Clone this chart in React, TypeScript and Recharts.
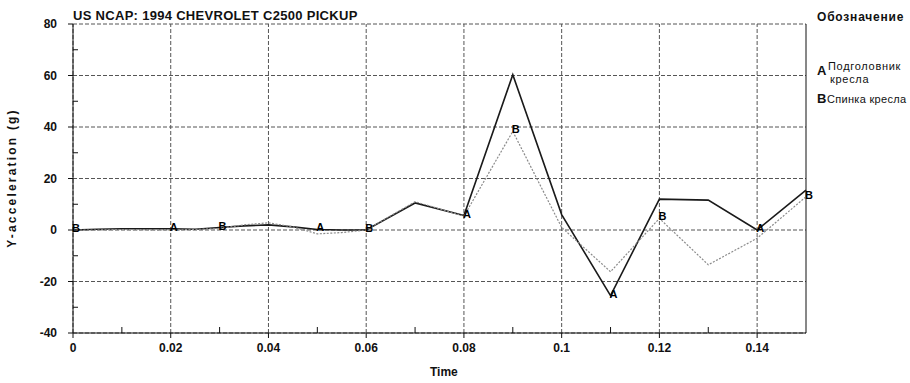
import React from 'react';
import { LineChart, Line, XAxis, YAxis, ReferenceLine } from 'recharts';

// time in s, Y-acceleration in g
const time = [0, 0.005, 0.01, 0.015, 0.02, 0.025, 0.03, 0.035, 0.04, 0.045, 0.05, 0.055, 0.06, 0.07, 0.08, 0.09, 0.1, 0.11, 0.12, 0.13, 0.14, 0.15];
const headrest = [0, 0.3, 0.5, 0.5, 0.5, 0.3, 1.0, 1.6, 2.0, 1.2, 0.2, 0, 0, 10.5, 5.6, 60.3, 6, -25.5, 12, 11.6, 0, 15.5];
const seatback = [0, 0, 0.2, 0.1, 0, 0.2, 0.6, 2.0, 2.8, 1.2, -1.5, -1.0, 0, 11, 5.4, 38.3, 1, -16.2, 4.5, -13.5, -3.2, 12.9];

const xMajor = [0, 0.02, 0.04, 0.06, 0.08, 0.1, 0.12, 0.14];
const xMinor = [0.01, 0.03, 0.05, 0.07, 0.09, 0.11, 0.13];
const yMajor = [-40, -20, 0, 20, 40, 60, 80];
const yMinor = [-30, -10, 10, 30, 50, 70];

const aMarks = [0.02, 0.05, 0.08, 0.11, 0.14];
const bMarks = [0, 0.03, 0.06, 0.09, 0.12, 0.15];

const data = time.map((t, i) => ({ time: t, a: headrest[i], b: seatback[i] }));

const font = 'Arial, "Liberation Sans", sans-serif';

const XTick = (props: any) => {
  const { x, y, payload } = props;
  if (xMinor.includes(payload.value)) {
    return <line x1={x} x2={x} y1={y} y2={y - 6} stroke="#111" strokeWidth={1} />;
  }
  return (
    <g>
      <line x1={x} x2={x} y1={y} y2={y + 5} stroke="#111" strokeWidth={1} />
      <text x={x} y={y + 19} textAnchor="middle" fontSize={12} fontWeight="bold" fill="#111" fontFamily={font}>
        {payload.value}
      </text>
    </g>
  );
};

const YTick = (props: any) => {
  const { x, y, payload } = props;
  if (yMinor.includes(payload.value)) {
    return <line x1={x} x2={x + 5} y1={y} y2={y} stroke="#111" strokeWidth={1} />;
  }
  return (
    <g>
      <line x1={x} x2={x - 5} y1={y} y2={y} stroke="#111" strokeWidth={1} />
      <text x={x - 16} y={y + 4} textAnchor="end" fontSize={12} fontWeight="bold" fill="#111" fontFamily={font}>
        {payload.value}
      </text>
    </g>
  );
};

const letterDot = (marks: number[], letter: string) => (props: any) => {
  const { cx, cy, payload, index } = props;
  if (!marks.includes(payload.time)) return <g key={index} />;
  return (
    <text key={index} x={cx + 3} y={cy + 2} textAnchor="middle" fontSize={11} fontWeight="bold" fill="#000" stroke="none" fontFamily={font}>
      {letter}
    </text>
  );
};

export default function App() {
  return (
    <div style={{ position: 'absolute', left: 0, top: 0, width: 910, height: 383, background: '#fff', fontFamily: font }}>
      <LineChart width={910} height={383} data={data} margin={{ top: 24, right: 104, bottom: 20, left: 33 }}>
        {yMajor.map((v) => (
          <ReferenceLine key={'gy' + v} y={v} stroke="#555" strokeDasharray="4 2" />
        ))}
        {xMajor.map((v) => (
          <ReferenceLine key={'gx' + v} x={v} stroke="#555" strokeDasharray="4 2" />
        ))}
        <ReferenceLine x={0.15} stroke="#111" />
        <XAxis
          dataKey="time"
          type="number"
          domain={[0, 0.15]}
          ticks={[...xMajor, ...xMinor].sort((p, q) => p - q)}
          interval={0}
          tickSize={0}
          tickMargin={0}
          tickLine={false}
          tick={XTick}
          height={30}
          axisLine={{ stroke: '#111' }}
        />
        <YAxis
          type="number"
          domain={[-40, 80]}
          ticks={[...yMajor, ...yMinor].sort((p, q) => p - q)}
          interval={0}
          tickSize={0}
          tickMargin={0}
          tickLine={false}
          tick={YTick}
          width={40}
          axisLine={{ stroke: '#111' }}
        />
        <Line
          dataKey="a"
          stroke="#1a1a1a"
          strokeWidth={1.6}
          dot={letterDot(aMarks, 'A')}
          activeDot={false}
          isAnimationActive={false}
        />
        <Line
          dataKey="b"
          stroke="#8a8a8a"
          strokeWidth={1.2}
          strokeDasharray="2 1.5"
          dot={letterDot(bMarks, 'B')}
          activeDot={false}
          isAnimationActive={false}
        />
      </LineChart>

      <div style={{ position: 'absolute', left: 73, top: 8, fontSize: 13, fontWeight: 'bold', letterSpacing: 0.3, color: '#111', whiteSpace: 'nowrap' }}>
        US NCAP: 1994 CHEVROLET C2500 PICKUP
      </div>
      <div style={{ position: 'absolute', left: 430, top: 365, fontSize: 12, fontWeight: 'bold', color: '#111' }}>Time</div>
      <div
        style={{
          position: 'absolute',
          left: 12,
          top: 178,
          transform: 'translate(-50%, -50%) rotate(-90deg)',
          fontSize: 12,
          fontWeight: 'bold',
          letterSpacing: 2.2,
          color: '#111',
          whiteSpace: 'nowrap',
        }}
      >
        Y-acceleration (g)
      </div>

      <div style={{ position: 'absolute', left: 817, top: 10, fontSize: 12, fontWeight: 'bold', letterSpacing: 0.8, color: '#111', whiteSpace: 'nowrap' }}>
        Обозначение
      </div>
      <div style={{ position: 'absolute', left: 817, top: 63, fontSize: 13, fontWeight: 'bold', color: '#111' }}>A</div>
      <div style={{ position: 'absolute', left: 828, top: 60, fontSize: 11, letterSpacing: 0.7, color: '#111', lineHeight: '13px', whiteSpace: 'nowrap' }}>
        Подголовник
        <br />
        <span style={{ marginLeft: 2 }}>кресла</span>
      </div>
      <div style={{ position: 'absolute', left: 817, top: 91, fontSize: 13, fontWeight: 'bold', color: '#111' }}>B</div>
      <div style={{ position: 'absolute', left: 827, top: 93, fontSize: 11, letterSpacing: 0.3, color: '#111', whiteSpace: 'nowrap' }}>Спинка кресла</div>
    </div>
  );
}
